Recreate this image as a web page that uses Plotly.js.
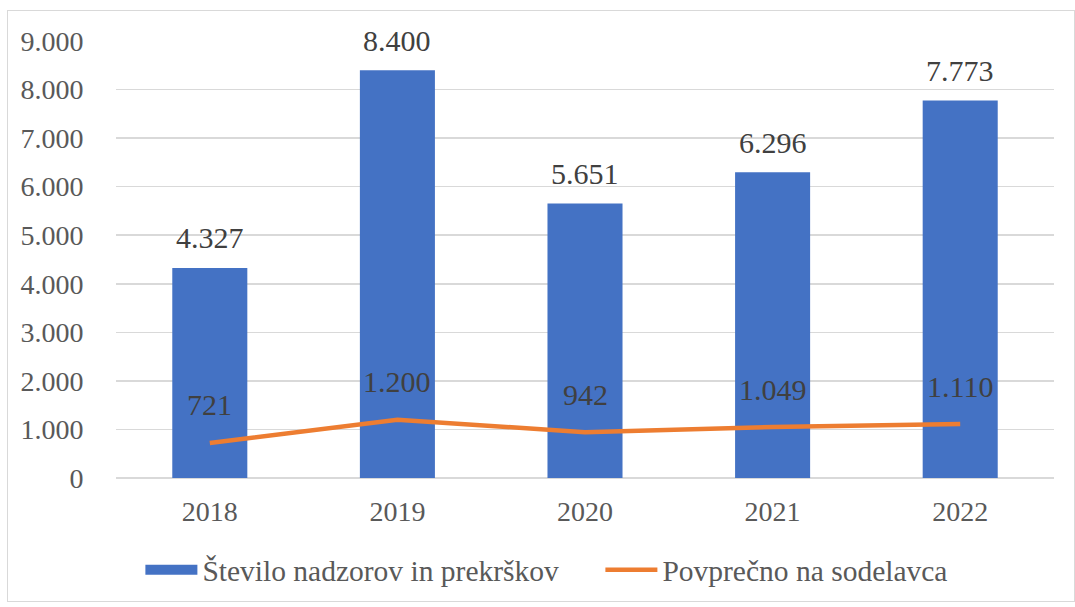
<!DOCTYPE html>
<html>
<head>
<meta charset="utf-8">
<script src="https://cdn.plot.ly/plotly-3.0.1.min.js"></script>
<style>
html,body{margin:0;padding:0;background:#fff;}
#wrap{position:relative;width:1075px;height:607px;}
#chart{position:absolute;left:0;top:0;width:1075px;height:607px;}
#frame{position:absolute;left:7px;top:10px;width:1066px;height:590px;border:1px solid #d9d9d9;pointer-events:none;}
</style>
</head>
<body>
<div id="wrap">
<div id="chart"></div>
<div id="frame"></div>
</div>
<script>
const years = ['2018', '2019', '2020', '2021', '2022'];
const inspections = [4327, 8400, 5651, 6296, 7773];
const perEmployee = [721, 1200, 942, 1049, 1110];
const barName = 'Število nadzorov in prekrškov';
const lineName = 'Povprečno na sodelavca';
const yTicks = [0, 1000, 2000, 3000, 4000, 5000, 6000, 7000, 8000, 9000];

const fmt = v => v.toString().replace(/\B(?=(\d{3})+(?!\d))/g, '.');

const FONT = '"Liberation Serif", "Times New Roman", serif';
const BLUE = '#4472C4', ORANGE = '#ED7D31';

const traces = [
  {
    type: 'bar', x: years, y: inspections, name: barName, showlegend: false,
    marker: {color: BLUE}, width: 0.4, hoverinfo: 'skip'
  },
  // legend key for the bars (wide rectangle, as in the original)
  {
    type: 'scatter', mode: 'lines', x: [null], y: [null], name: barName,
    line: {color: BLUE, width: 15}, hoverinfo: 'skip'
  },
  {
    type: 'scatter', mode: 'lines', x: years, y: perEmployee, name: lineName,
    line: {color: ORANGE, width: 4.5}, hoverinfo: 'skip'
  }
];

const annotations = [];
years.forEach((yr, i) => {
  annotations.push({x: i, y: inspections[i], text: fmt(inspections[i]), showarrow: false,
    yanchor: 'middle', yshift: 30, font: {family: FONT, size: 30, color: '#404040'}});
  annotations.push({x: i, y: perEmployee[i], text: fmt(perEmployee[i]), showarrow: false,
    yanchor: 'middle', yshift: 38, font: {family: FONT, size: 30, color: '#404040'}});
});

const layout = {
  width: 1075, height: 607,
  margin: {l: 116, r: 21, t: 41, b: 128},
  paper_bgcolor: 'rgba(0,0,0,0)', plot_bgcolor: '#fff',
  font: {family: FONT, size: 28, color: '#595959'},
  showlegend: true,
  legend: {orientation: 'h', x: 0.026, xanchor: 'left', y: -0.208, yanchor: 'middle',
    font: {family: FONT, size: 29.5, color: '#595959'}, itemwidth: 52, entrywidth: 393,
    traceorder: 'normal'},
  xaxis: {type: 'category', range: [-0.5, 4.5], showgrid: false, zeroline: false, showline: false,
    ticks: 'outside', ticklen: 8, tickcolor: 'rgba(0,0,0,0)',
    tickfont: {family: FONT, size: 28, color: '#595959'}},
  yaxis: {range: [0, 9000], tickvals: yTicks, ticktext: yTicks.map(fmt),
    showgrid: true, gridcolor: '#d9d9d9', gridwidth: 1.5, zeroline: true, zerolinecolor: '#d9d9d9', zerolinewidth: 1.5,
    showline: false, ticks: 'outside', ticklen: 26, tickcolor: 'rgba(0,0,0,0)',
    tickfont: {family: FONT, size: 28, color: '#595959'}},
  annotations: annotations
};

Plotly.newPlot('chart', traces, layout, {displayModeBar: false, staticPlot: true});
</script>
</body>
</html>
